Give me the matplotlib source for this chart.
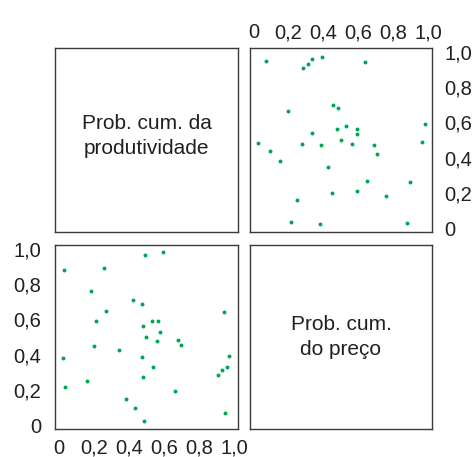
import matplotlib.pyplot as plt

plt.rcParams['font.family'] = ['Liberation Sans', 'DejaVu Sans']

# probabilidades acumuladas (copula): preco no eixo x do painel de baixo
preco = [0.592, 0.490, 0.031, 0.261, 0.186, 0.423, 0.473, 0.267, 0.939, 0.212,
         0.533, 0.565, 0.478, 0.578, 0.499, 0.560, 0.680, 0.697, 0.201, 0.346,
         0.027, 0.474, 0.967, 0.539, 0.960, 0.931, 0.907, 0.480, 0.037, 0.163,
         0.663, 0.382, 0.437, 0.946, 0.484]
produtividade = [0.978, 0.962, 0.879, 0.892, 0.760, 0.707, 0.688, 0.647, 0.639, 0.589,
                 0.590, 0.590, 0.564, 0.530, 0.498, 0.477, 0.481, 0.455, 0.449, 0.428,
                 0.381, 0.385, 0.393, 0.332, 0.332, 0.313, 0.283, 0.276, 0.217, 0.249,
                 0.197, 0.150, 0.097, 0.069, 0.025]

ticks = [0, 0.2, 0.4, 0.6, 0.8, 1.0]
tick_labels = ['0', '0,2', '0,4', '0,6', '0,8', '1,0']

verde = '#00a651'
preto = '#231f20'
borda = '#3a3a3a'

W, H = 477, 457
fig = plt.figure(figsize=(W / 100, H / 100), dpi=100)

def caixa(x0, y0, x1, y1):
    ax = fig.add_axes([x0 / W, 1 - y1 / H, (x1 - x0) / W, (y1 - y0) / H])
    for s in ax.spines.values():
        s.set_color(borda)
        s.set_linewidth(1.0)
    ax.set_xlim(-0.02, 1.02)
    ax.set_ylim(-0.02, 1.02)
    return ax

# canto superior esquerdo - texto
ax1 = caixa(55, 48, 238, 232)
ax1.set_xticks([])
ax1.set_yticks([])
ax1.text(0.5, 0.52, 'Prob. cum. da\nprodutividade', ha='center', va='center',
         fontsize=15, color=preto, linespacing=1.4, transform=ax1.transAxes)

# canto superior direito - dispersao
ax2 = caixa(250, 48, 432, 232)
ax2.scatter(produtividade, preco, s=8, color=verde, linewidths=0, zorder=3)
ax2.xaxis.tick_top()
ax2.yaxis.tick_right()
ax2.set_xticks(ticks, tick_labels)
ax2.set_yticks(ticks, tick_labels)
ax2.tick_params(axis='x', length=0, pad=4, labelsize=14.5, labelcolor=preto)
ax2.tick_params(axis='y', length=0, pad=9, labelsize=14.5, labelcolor=preto)

# canto inferior esquerdo - dispersao
ax3 = caixa(55, 245, 238, 429)
ax3.scatter(preco, produtividade, s=8, color=verde, linewidths=0, zorder=3)
ax3.set_xticks(ticks, tick_labels)
ax3.set_yticks(ticks, tick_labels)
ax3.tick_params(axis='x', length=0, pad=7, labelsize=14.5, labelcolor=preto)
ax3.tick_params(axis='y', length=0, pad=10, labelsize=14.5, labelcolor=preto)

# canto inferior direito - texto
ax4 = caixa(250, 245, 432, 429)
ax4.set_xticks([])
ax4.set_yticks([])
ax4.text(0.5, 0.5, 'Prob. cum.\ndo preço', ha='center', va='center',
         fontsize=15, color=preto, linespacing=1.4, transform=ax4.transAxes)

fig.savefig('out.png', dpi=100)
